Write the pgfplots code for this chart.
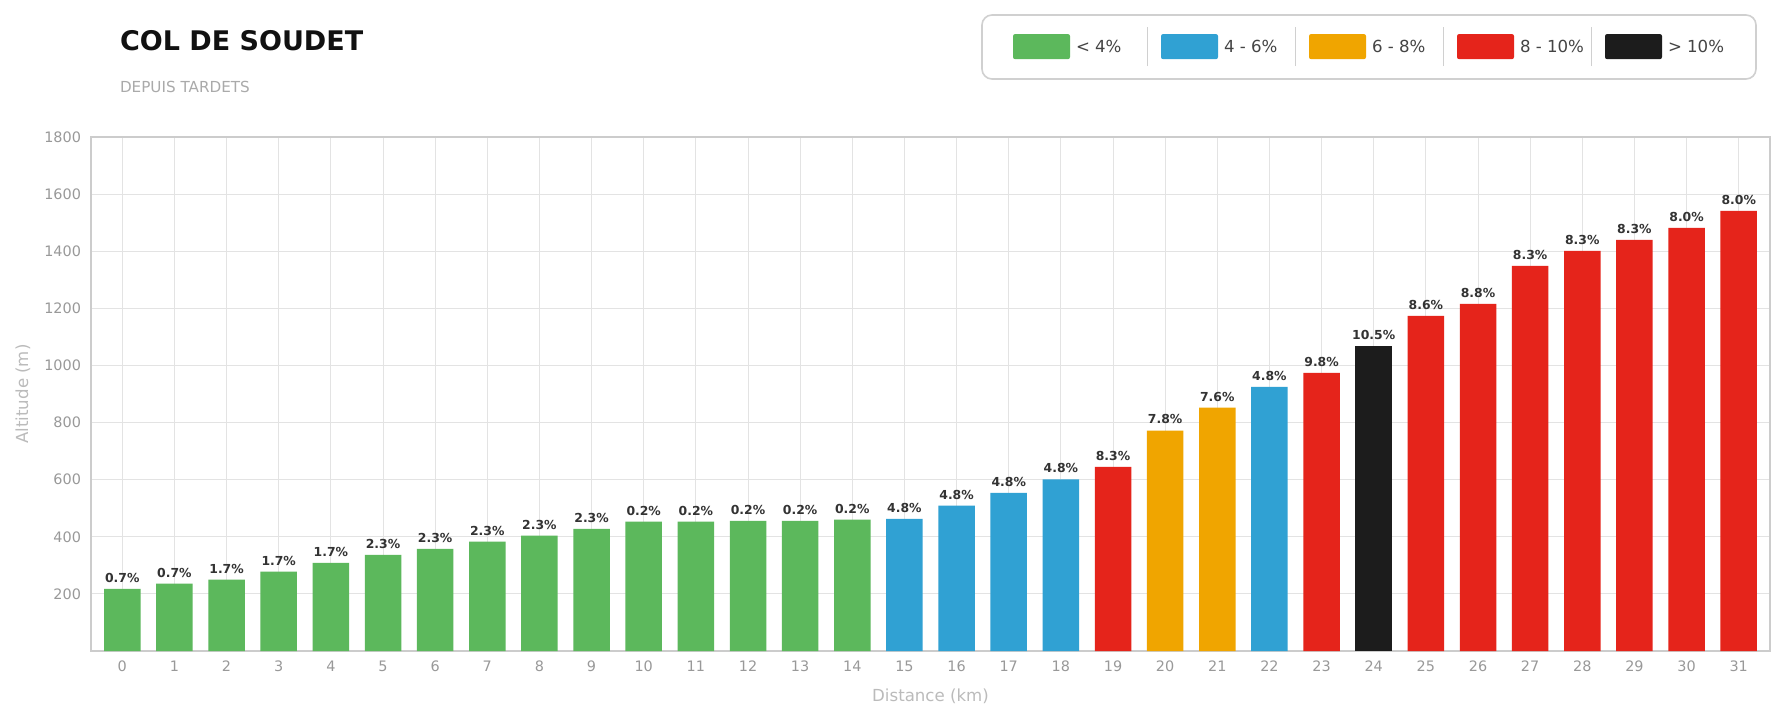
\documentclass[border=0pt]{standalone}
\usepackage{fontspec}
\setmainfont{DejaVu Sans}
\usepackage{pgfplots}
\usepackage{pgfplotstable}
\pgfplotsset{compat=1.18}
\definecolor{cGreen}{HTML}{5CB85C}
\definecolor{cBlue}{HTML}{30A1D3}
\definecolor{cOrange}{HTML}{F0A500}
\definecolor{cRed}{HTML}{E5241B}
\definecolor{cBlack}{HTML}{1C1C1C}
\definecolor{gridc}{HTML}{E3E3E3}
\definecolor{axisc}{HTML}{CCCCCC}
\definecolor{tickc}{HTML}{999999}
\definecolor{labc}{HTML}{333333}
\definecolor{axlabc}{HTML}{BBBBBB}
\definecolor{legc}{HTML}{D0D0D0}
\definecolor{legtext}{HTML}{444444}
\definecolor{titlec}{HTML}{111111}
\definecolor{subc}{HTML}{AAAAAA}

\pgfplotstableread{
x y g
0 218 0.7
1 236 0.7
2 250 1.7
3 278 1.7
4 309 1.7
5 337 2.3
6 358 2.3
7 383 2.3
8 404 2.3
9 428 2.3
10 453 0.2
11 453 0.2
12 456 0.2
13 456 0.2
14 460 0.2
}\greendata
\pgfplotstableread{
x y g
15 463 4.8
16 509 4.8
17 554 4.8
18 601 4.8
22 925 4.8
}\bluedata
\pgfplotstableread{
x y g
20 772 7.8
21 852 7.6
}\orangedata
\pgfplotstableread{
x y g
19 645 8.3
23 974 9.8
25 1174 8.6
26 1216 8.8
27 1349 8.3
28 1401 8.3
29 1440 8.3
30 1482 8.0
31 1541 8.0
}\reddata
\pgfplotstableread{
x y g
24 1069 10.5
}\blackdata

\begin{document}
\begin{tikzpicture}
\path[use as bounding box, fill=white] (0,0) rectangle (892.5pt,360pt);
\begin{axis}[
  at={(45.5pt,34.5pt)}, anchor=south west,
  scale only axis, width=839.5pt, height=257pt,
  xmin=-0.6, xmax=31.6, ymin=0, ymax=1800,
  xtick={0,...,31}, ytick={200,400,...,1800},
  grid=major,
  major grid style={draw=gridc, line width=0.5pt},
  axis line style={draw=axisc, line width=0.6pt},
  tick style={draw=none},
  /pgf/number format/assume math mode=true,
  /pgf/number format/1000 sep={},
  ticklabel style={font=\fontsize{7.2}{8.5}\selectfont, text=tickc},
  yticklabel style={xshift=-1.5pt},
  xticklabel style={yshift=-1.5pt},
  xlabel={Distance (km)}, ylabel={Altitude (m)},
  xlabel style={at={(axis description cs:0.5,0)}, anchor=center, yshift=-22.5pt, font=\fontsize{8.3}{10}\selectfont, text=axlabc},
  ylabel style={at={([xshift=-34pt]axis description cs:0,0.5)}, anchor=center, font=\fontsize{8.3}{10}\selectfont, text=axlabc},
  point meta=explicit,
  nodes near coords={\pgfmathprintnumber[fixed,fixed zerofill,precision=1]{\pgfplotspointmeta}\%},
  every node near coord/.append style={font=\bfseries\fontsize{6.2}{7}\selectfont, text=labc, inner sep=1pt, yshift=2pt},
]
\addplot[ybar, bar width=0.7, bar shift=0pt, fill=cGreen, draw=none] table[x=x, y=y, meta=g]{\greendata};
\addplot[ybar, bar width=0.7, bar shift=0pt, fill=cBlue, draw=none] table[x=x, y=y, meta=g]{\bluedata};
\addplot[ybar, bar width=0.7, bar shift=0pt, fill=cOrange, draw=none] table[x=x, y=y, meta=g]{\orangedata};
\addplot[ybar, bar width=0.7, bar shift=0pt, fill=cRed, draw=none] table[x=x, y=y, meta=g]{\reddata};
\addplot[ybar, bar width=0.7, bar shift=0pt, fill=cBlack, draw=none] table[x=x, y=y, meta=g]{\blackdata};
\end{axis}

% Title
\node[anchor=base west, inner sep=0, font=\bfseries\fontsize{13.5}{16}\selectfont, text=titlec] at (59.8pt,335pt) {COL DE SOUDET};
\node[anchor=base west, inner sep=0, font=\fontsize{7.6}{9}\selectfont, text=subc] at (59.8pt,313.9pt) {DEPUIS TARDETS};

% Legend
\draw[draw=legc, line width=0.8pt, rounded corners=5pt, fill=white] (491pt,320.5pt) rectangle (878pt,352.5pt);
\foreach \sx/\col/\txt in {506.5/cGreen/{< 4\%}, 580.5/cBlue/{4 - 6\%}, 654.5/cOrange/{6 - 8\%}, 728.5/cRed/{8 - 10\%}, 802.5/cBlack/{> 10\%}}{
  \fill[\col, rounded corners=1pt] (\sx pt,330.45pt) rectangle ++(28.5pt,12.5pt);
  \node[anchor=west, inner sep=0, font=\fontsize{8.3}{10}\selectfont, text=legtext] at ({\sx pt+31.3pt},336.7pt) {\txt};
}
\foreach \lx in {573.6,647.6,721.6,795.6}{
  \draw[draw=legc, line width=0.5pt] (\lx pt,327pt) -- (\lx pt,346.5pt);
}
\end{tikzpicture}
\end{document}
